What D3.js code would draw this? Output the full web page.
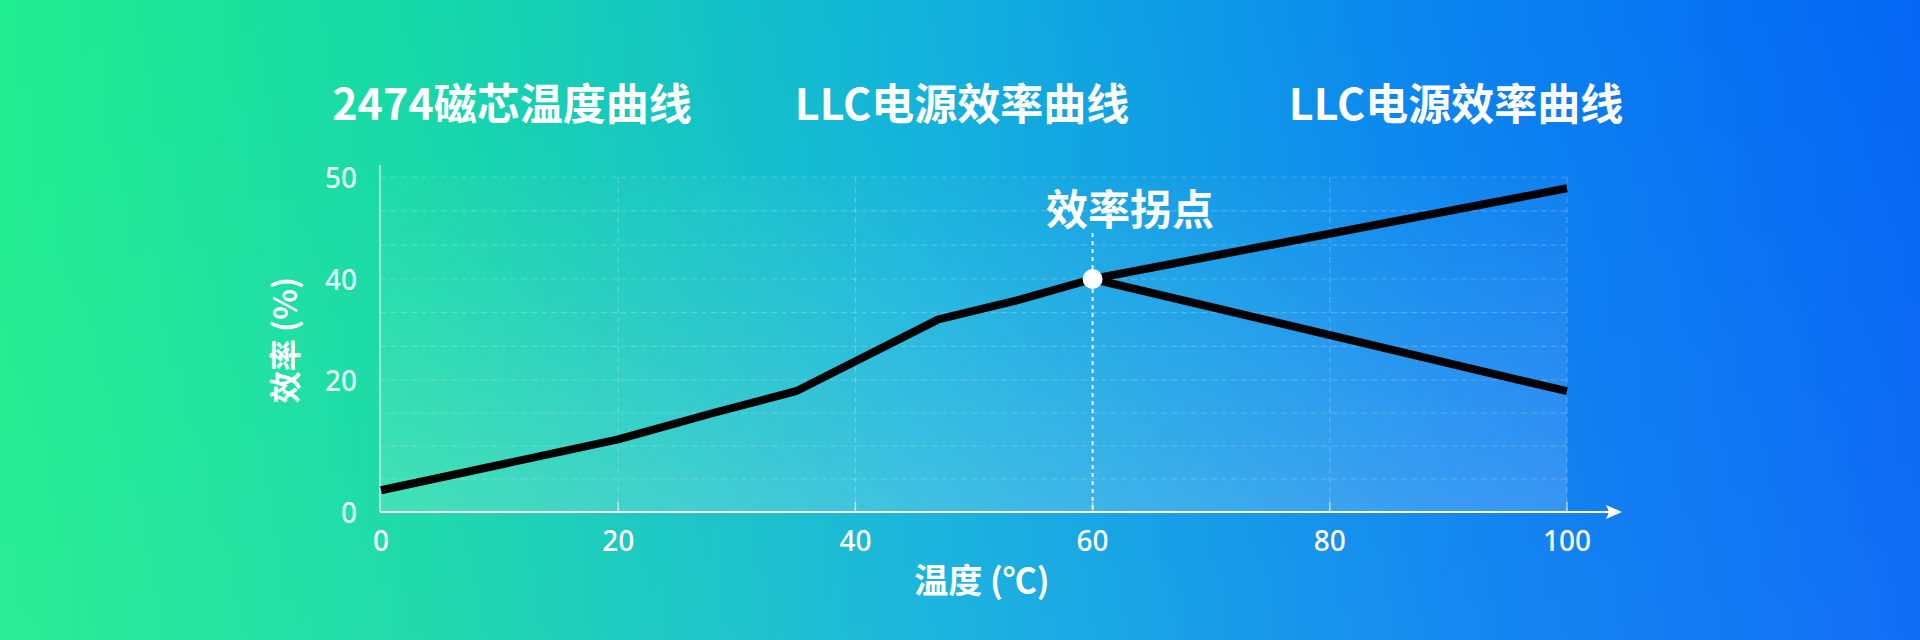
<!DOCTYPE html>
<html>
<head>
<meta charset="utf-8">
<script src="https://cdn.jsdelivr.net/npm/d3@7"></script>
<style>
  html, body { margin: 0; padding: 0; width: 1920px; height: 640px; overflow: hidden; }
  svg { display: block; }
  text { font-family: "Noto Sans CJK SC", "Noto Sans", sans-serif; fill: #ffffff; }
</style>
</head>
<body>
<svg id="chart" width="1920" height="640"></svg>
<script>
// ---- data ----
const titles = ["2474磁芯温度曲线", "LLC电源效率曲线", "LLC电源效率曲线"];
const titleCenters = [512, 962, 1456];

const xTicks = [0, 20, 40, 60, 80, 100];
const yTicks = [0, 20, 40, 50];
const yTickLabels = ["0", "20", "40", "50"];
const yGridValues = [0, 5, 10, 15, 20, 26.67, 33.33, 40, 43.33, 46.67, 50];

const temps = [0, 20, 28, 35, 47, 54, 60];
const effMain = [3.3, 11, 15, 18.3, 32, 36, 40];

const branchTemps = [60, 100];
const effUpper = [40, 48.9];
const effLower = [40, 18.3];

const kneeTemp = 60;
const kneeEff = 40;
const kneeLabel = "效率拐点";
const xTitle = "温度 (℃)";
const yTitle = "效率 (%)";

// ---- layout ----
const svg = d3.select("#chart");
const W = 1920, H = 640;

const x = d3.scaleLinear().domain([0, 100]).range([381, 1567]);
const y = d3.scaleLinear().domain([0, 20, 40, 50]).range([512, 380, 279, 177]);

const defs = svg.append("defs");
const bg = defs.append("linearGradient").attr("id", "bg").attr("x1", "0").attr("x2", "1").attr("y1", "0").attr("y2", "0");
bg.append("stop").attr("offset", "0%").attr("stop-color", "#20ec90");
bg.append("stop").attr("offset", "22%").attr("stop-color", "#16d8a8");
bg.append("stop").attr("offset", "48%").attr("stop-color", "#12b2dc");
bg.append("stop").attr("offset", "75%").attr("stop-color", "#0a84ef");
bg.append("stop").attr("offset", "100%").attr("stop-color", "#0566f4");

const bgV = defs.append("linearGradient").attr("id", "bgV").attr("x1", "0").attr("x2", "0").attr("y1", "0").attr("y2", "1");
bgV.append("stop").attr("offset", "0%").attr("stop-color", "#ffffff").attr("stop-opacity", 0);
bgV.append("stop").attr("offset", "100%").attr("stop-color", "#ffffff").attr("stop-opacity", 0.05);

const plotFill = defs.append("linearGradient").attr("id", "plotFill").attr("x1", "0").attr("x2", "0").attr("y1", "0").attr("y2", "1");
plotFill.append("stop").attr("offset", "0%").attr("stop-color", "#ffffff").attr("stop-opacity", 0.02);
plotFill.append("stop").attr("offset", "100%").attr("stop-color", "#ffffff").attr("stop-opacity", 0.16);

svg.append("rect").attr("width", W).attr("height", H).attr("fill", "url(#bg)");
svg.append("rect").attr("width", W).attr("height", H).attr("fill", "url(#bgV)");

// plot area overlay
svg.append("rect")
  .attr("x", x(0)).attr("y", y(50))
  .attr("width", x(100) - x(0)).attr("height", y(0) - y(50))
  .attr("fill", "url(#plotFill)");

// titles
svg.selectAll("text.title").data(titles).enter().append("text")
  .attr("class", "title")
  .attr("x", (d, i) => titleCenters[i])
  .attr("y", 101)
  .attr("text-anchor", "middle")
  .attr("dominant-baseline", "central")
  .style("font-size", "43px")
  .style("font-weight", "700")
  .text(d => d);

// horizontal grid
svg.append("g").selectAll("line").data(yGridValues.filter(v => v > 0)).enter().append("line")
  .attr("x1", x(0)).attr("x2", x(100))
  .attr("y1", d => y(d)).attr("y2", d => y(d))
  .attr("stroke", "#ffffff").attr("stroke-opacity", 0.2)
  .attr("stroke-width", 1.2).attr("stroke-dasharray", "6,4");

// vertical grid
svg.append("g").selectAll("line").data(xTicks.filter(v => v > 0 && v !== kneeTemp)).enter().append("line")
  .attr("x1", d => x(d)).attr("x2", d => x(d))
  .attr("y1", y(50)).attr("y2", y(0))
  .attr("stroke", "#ffffff").attr("stroke-opacity", 0.22)
  .attr("stroke-width", 1.2).attr("stroke-dasharray", "6,4");

// small ticks at x axis
svg.append("g").selectAll("line").data(xTicks.filter(v => v > 0)).enter().append("line")
  .attr("x1", d => x(d)).attr("x2", d => x(d))
  .attr("y1", y(0) - 10).attr("y2", y(0))
  .attr("stroke", "#ffffff").attr("stroke-opacity", 0.6).attr("stroke-width", 1.5);

// y axis line
svg.append("line")
  .attr("x1", x(0) - 1).attr("x2", x(0) - 1)
  .attr("y1", 165).attr("y2", y(0))
  .attr("stroke", "#ffffff").attr("stroke-opacity", 0.75).attr("stroke-width", 1.5);

// x axis line with arrow
svg.append("line")
  .attr("x1", x(0) - 1).attr("x2", 1612)
  .attr("y1", y(0)).attr("y2", y(0))
  .attr("stroke", "#ffffff").attr("stroke-width", 2);
svg.append("path")
  .attr("d", `M1622,${y(0)} L1606,${y(0) - 7} L1609,${y(0)} L1606,${y(0) + 7} Z`)
  .attr("fill", "#ffffff");

// y tick labels
svg.append("g").selectAll("text").data(yTicks).enter().append("text")
  .attr("x", 357)
  .attr("y", d => y(d))
  .attr("text-anchor", "end")
  .attr("dominant-baseline", "central")
  .style("font-family", "'Noto Sans', sans-serif")
  .style("font-size", "28px")
  .style("font-weight", "500")
  .style("fill-opacity", 0.92)
  .text((d, i) => yTickLabels[i]);

// x tick labels
svg.append("g").selectAll("text").data(xTicks).enter().append("text")
  .attr("x", d => x(d))
  .attr("y", 540)
  .attr("text-anchor", "middle")
  .attr("dominant-baseline", "central")
  .style("font-family", "'Noto Sans', sans-serif")
  .style("font-size", "28px")
  .style("font-weight", "500")
  .text(d => d);

// axis titles
svg.append("text")
  .attr("x", 982).attr("y", 578)
  .attr("text-anchor", "middle").attr("dominant-baseline", "central")
  .style("font-size", "34px").style("font-weight", "700")
  .text(xTitle);

svg.append("text")
  .attr("transform", "translate(283,340) rotate(-90)")
  .attr("text-anchor", "middle").attr("dominant-baseline", "central")
  .style("font-size", "32px").style("font-weight", "700")
  .text(yTitle);

// knee dashed line
svg.append("line")
  .attr("x1", x(kneeTemp)).attr("x2", x(kneeTemp))
  .attr("y1", 233).attr("y2", y(0))
  .attr("stroke", "#ffffff").attr("stroke-opacity", 0.85)
  .attr("stroke-width", 2).attr("stroke-dasharray", "4,4");

// lines
const line = d3.line().x(d => x(d[0])).y(d => y(d[1]));
const mainData = temps.map((t, i) => [t, effMain[i]]);
const upperData = branchTemps.map((t, i) => [t, effUpper[i]]);
const lowerData = branchTemps.map((t, i) => [t, effLower[i]]);

[mainData, upperData, lowerData].forEach(dat => {
  svg.append("path").datum(dat)
    .attr("d", line)
    .attr("fill", "none")
    .attr("stroke", "#000000")
    .attr("stroke-width", 8)
    .attr("stroke-linejoin", "round")
    .attr("stroke-linecap", "butt");
});

// knee marker
svg.append("circle")
  .attr("cx", x(kneeTemp)).attr("cy", y(kneeEff)).attr("r", 10)
  .attr("fill", "#ffffff");

// knee label
svg.append("text")
  .attr("x", 1130).attr("y", 206)
  .attr("text-anchor", "middle").attr("dominant-baseline", "central")
  .style("font-size", "42px").style("font-weight", "700")
  .text(kneeLabel);
</script>
</body>
</html>
